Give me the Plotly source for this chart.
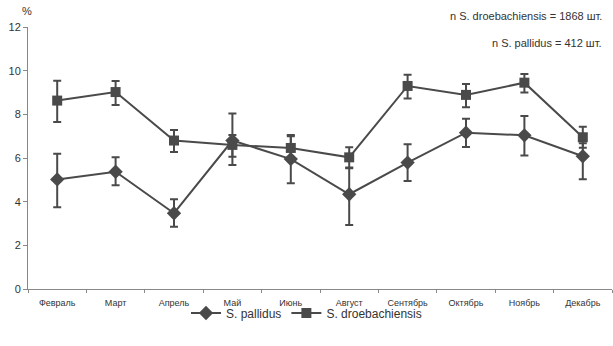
import plotly.graph_objects as go

months = ["Февраль", "Март", "Апрель", "Май", "Июнь", "Август", "Сентябрь", "Октябрь", "Ноябрь", "Декабрь"]

pallidus = [5.02, 5.37, 3.47, 6.8, 5.95, 4.34, 5.79, 7.16, 7.04, 6.08]
pallidus_hi = [6.2, 6.03, 4.11, 8.04, 7.05, 5.57, 6.63, 7.8, 7.92, 6.68]
pallidus_lo = [3.74, 4.75, 2.85, 5.68, 4.84, 2.93, 4.95, 6.5, 6.12, 5.03]

droeb = [8.63, 9.02, 6.8, 6.6, 6.46, 6.03, 9.3, 8.89, 9.45, 6.95]
droeb_hi = [9.54, 9.53, 7.28, 7.05, 7.0, 6.49, 9.81, 9.39, 9.85, 7.43]
droeb_lo = [7.65, 8.43, 6.28, 6.06, 5.95, 5.53, 8.73, 8.32, 9.0, 6.47]

ytick_vals = [0, 2, 4, 6, 8, 10, 12]

C = "#4a4a4a"
W, H = 613, 346
L, R, T, B = 28, 1, 27, 57
pw, ph = W - L - R, H - T - B


def px_x(x):
    return (x - L) / pw


def px_y(y):
    return (H - B - y) / ph


def errs(v, hi, lo):
    return dict(
        type="data", symmetric=False,
        array=[h - x for h, x in zip(hi, v)],
        arrayminus=[x - l for x, l in zip(v, lo)],
        color=C, thickness=2, width=4,
    )


fig = go.Figure()
fig.add_trace(go.Scatter(
    x=months, y=pallidus, name="S. pallidus", mode="lines+markers",
    line=dict(color=C, width=2),
    marker=dict(symbol="diamond", size=11, color=C),
    error_y=errs(pallidus, pallidus_hi, pallidus_lo),
))
fig.add_trace(go.Scatter(
    x=months, y=droeb, name="S. droebachiensis", mode="lines+markers",
    line=dict(color=C, width=2),
    marker=dict(symbol="square", size=10, color=C),
    error_y=errs(droeb, droeb_hi, droeb_lo),
))

fig.update_layout(
    width=W, height=H,
    margin=dict(l=L, r=R, t=T, b=B, autoexpand=False),
    paper_bgcolor="white", plot_bgcolor="white",
    font=dict(family="Liberation Sans, Arial, sans-serif", color="#333", size=11),
    showlegend=True,
    legend=dict(orientation="h", x=0.5, xanchor="center", xref="container",
                y=(H - 313) / H, yanchor="middle", yref="container",
                bgcolor="rgba(0,0,0,0)",
                font=dict(size=12)),
    annotations=[
        dict(text="n S. droebachiensis = 1868 шт.", x=px_x(604), y=px_y(16), xref="paper", yref="paper",
             showarrow=False, xanchor="right", yanchor="middle", font=dict(size=11)),
        dict(text="n S. pallidus = 412 шт.", x=px_x(604), y=px_y(43), xref="paper", yref="paper",
             showarrow=False, xanchor="right", yanchor="middle", font=dict(size=11)),
        dict(text="%", x=px_x(27), y=px_y(11), xref="paper", yref="paper",
             showarrow=False, xanchor="center", yanchor="middle", font=dict(size=11)),
    ],
)

fig.update_xaxes(
    type="category", range=[-0.5, 9.5], showline=True, linecolor="#888", linewidth=1,
    ticks="outside", ticklen=3, tickcolor="#888", tickson="boundaries", automargin=False,
    showgrid=False, tickfont=dict(size=9), zeroline=False, ticklabelstandoff=5,
)
fig.update_yaxes(
    range=[0, 12], tickvals=ytick_vals, showline=True, linecolor="#888", linewidth=1,
    ticks="outside", ticklen=4, tickcolor="#888", showgrid=False, zeroline=False,
    automargin=False, tickfont=dict(size=11),
)

fig.write_html("out.html", config={"displayModeBar": False},
               post_script="document.body.style.margin='0';")
